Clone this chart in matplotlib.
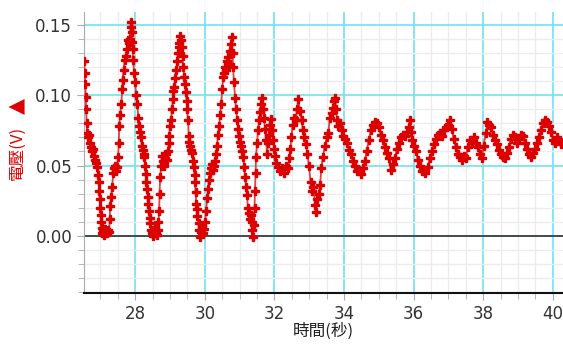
import matplotlib
matplotlib.use("Agg")
import matplotlib.pyplot as plt
from matplotlib.ticker import MultipleLocator

plt.rcParams['font.family'] = ['DejaVu Sans', 'Noto Sans CJK TC']

time_s = [
26.54, 26.55, 26.57, 26.58, 26.59, 26.61, 26.62, 26.65, 26.68, 26.71, 26.74, 26.77, 26.79, 26.82, 26.85,
26.88, 26.91, 26.94, 26.95, 26.97, 26.98, 27.00, 27.01, 27.02, 27.04, 27.05, 27.08, 27.11, 27.14, 27.17,
27.20, 27.23, 27.25, 27.27, 27.28, 27.31, 27.34, 27.37, 27.40, 27.43, 27.45, 27.48, 27.51, 27.53, 27.54,
27.57, 27.60, 27.63, 27.64, 27.67, 27.70, 27.73, 27.76, 27.78, 27.81, 27.84, 27.87, 27.89, 27.90, 27.91,
27.93, 27.94, 27.97, 28.00, 28.03, 28.06, 28.09, 28.10, 28.13, 28.16, 28.19, 28.22, 28.24, 28.26, 28.29,
28.30, 28.32, 28.34, 28.36, 28.37, 28.39, 28.42, 28.43, 28.46, 28.49, 28.52, 28.55, 28.57, 28.60, 28.63,
28.66, 28.67, 28.69, 28.70, 28.72, 28.75, 28.77, 28.80, 28.83, 28.86, 28.89, 28.92, 28.95, 28.96, 28.98,
29.00, 29.03, 29.06, 29.08, 29.10, 29.12, 29.15, 29.18, 29.21, 29.22, 29.25, 29.26, 29.29, 29.32, 29.35,
29.36, 29.38, 29.41, 29.43, 29.45, 29.48, 29.49, 29.52, 29.54, 29.56, 29.58, 29.61, 29.64, 29.66, 29.68,
29.71, 29.72, 29.74, 29.75, 29.78, 29.79, 29.82, 29.84, 29.87, 29.89, 29.92, 29.95, 29.98, 30.01, 30.04,
30.07, 30.09, 30.12, 30.15, 30.18, 30.21, 30.24, 30.27, 30.30, 30.32, 30.35, 30.38, 30.41, 30.44, 30.47,
30.50, 30.53, 30.55, 30.58, 30.61, 30.64, 30.67, 30.69, 30.71, 30.74, 30.77, 30.80, 30.81, 30.84, 30.87,
30.90, 30.93, 30.96, 30.98, 31.01, 31.04, 31.07, 31.10, 31.13, 31.16, 31.19, 31.21, 31.24, 31.27, 31.30,
31.33, 31.36, 31.37, 31.39, 31.41, 31.43, 31.44, 31.46, 31.47, 31.50, 31.53, 31.56, 31.59, 31.62, 31.64,
31.67, 31.70, 31.73, 31.76, 31.79, 31.82, 31.85, 31.87, 31.90, 31.93, 31.96, 31.99, 32.02, 32.05, 32.10,
32.16, 32.22, 32.28, 32.33, 32.39, 32.43, 32.46, 32.49, 32.52, 32.56, 32.61, 32.65, 32.69, 32.73, 32.78,
32.82, 32.86, 32.90, 32.95, 32.99, 33.04, 33.08, 33.12, 33.17, 33.19, 33.22, 33.27, 33.31, 33.35, 33.39,
33.45, 33.51, 33.55, 33.59, 33.64, 33.68, 33.71, 33.74, 33.77, 33.80, 33.84, 33.88, 33.93, 33.97, 34.03,
34.08, 34.14, 34.19, 34.25, 34.31, 34.36, 34.42, 34.48, 34.54, 34.59, 34.65, 34.71, 34.77, 34.82, 34.88,
34.94, 35.00, 35.05, 35.11, 35.17, 35.23, 35.28, 35.34, 35.40, 35.46, 35.52, 35.57, 35.63, 35.69, 35.75,
35.80, 35.86, 35.89, 35.92, 35.95, 36.00, 36.06, 36.12, 36.17, 36.23, 36.29, 36.34, 36.40, 36.46, 36.52,
36.58, 36.63, 36.69, 36.75, 36.81, 36.86, 36.92, 36.98, 37.04, 37.09, 37.15, 37.21, 37.27, 37.32, 37.38,
37.44, 37.50, 37.55, 37.61, 37.67, 37.73, 37.78, 37.84, 37.90, 37.96, 38.01, 38.07, 38.12, 38.16, 38.22,
38.27, 38.33, 38.39, 38.45, 38.50, 38.56, 38.62, 38.68, 38.73, 38.79, 38.85, 38.91, 38.97, 39.02, 39.08,
39.14, 39.20, 39.25, 39.31, 39.37, 39.43, 39.48, 39.54, 39.60, 39.65, 39.71, 39.77, 39.83, 39.89, 39.94,
40.00, 40.06, 40.11, 40.17, 40.23, 40.29,
]

voltage_v = [
0.124, 0.116, 0.108, 0.099, 0.090, 0.080, 0.073, 0.070, 0.072, 0.066, 0.063, 0.060, 0.062, 0.057, 0.054,
0.052, 0.049, 0.043, 0.038, 0.032, 0.026, 0.020, 0.015, 0.010, 0.006, 0.002, 0.004, 0.001, 0.005, 0.003,
0.002, 0.004, 0.003, 0.012, 0.021, 0.028, 0.035, 0.045, 0.048, 0.050, 0.046, 0.049, 0.056, 0.066, 0.078,
0.086, 0.094, 0.104, 0.111, 0.118, 0.125, 0.128, 0.133, 0.139, 0.137, 0.140, 0.148, 0.152, 0.145, 0.138,
0.133, 0.125, 0.116, 0.109, 0.100, 0.094, 0.084, 0.078, 0.074, 0.070, 0.064, 0.061, 0.058, 0.056, 0.050,
0.044, 0.038, 0.033, 0.028, 0.023, 0.018, 0.013, 0.009, 0.004, 0.002, 0.000, 0.004, 0.006, 0.002, 0.001,
0.004, 0.010, 0.018, 0.030, 0.042, 0.050, 0.057, 0.053, 0.050, 0.055, 0.058, 0.054, 0.060, 0.066, 0.071,
0.078, 0.082, 0.090, 0.097, 0.103, 0.106, 0.112, 0.118, 0.124, 0.130, 0.134, 0.137, 0.142, 0.139, 0.134,
0.128, 0.120, 0.113, 0.108, 0.102, 0.096, 0.090, 0.082, 0.071, 0.067, 0.064, 0.061, 0.059, 0.053, 0.049,
0.043, 0.038, 0.031, 0.023, 0.019, 0.014, 0.009, 0.004, -0.001, 0.003, 0.007, 0.002, 0.005, 0.010, 0.018,
0.027, 0.033, 0.040, 0.045, 0.048, 0.051, 0.047, 0.050, 0.053, 0.058, 0.064, 0.072, 0.078, 0.086, 0.094,
0.104, 0.113, 0.116, 0.120, 0.118, 0.124, 0.127, 0.122, 0.131, 0.136, 0.141, 0.130, 0.120, 0.109, 0.098,
0.090, 0.082, 0.076, 0.071, 0.067, 0.064, 0.060, 0.056, 0.049, 0.042, 0.035, 0.029, 0.020, 0.016, 0.012,
0.015, 0.010, 0.004, -0.001, 0.008, 0.020, 0.032, 0.045, 0.056, 0.066, 0.075, 0.082, 0.088, 0.094, 0.098,
0.090, 0.084, 0.076, 0.068, 0.058, 0.066, 0.072, 0.079, 0.083, 0.075, 0.068, 0.062, 0.057, 0.052, 0.049,
0.046, 0.048, 0.045, 0.050, 0.048, 0.055, 0.062, 0.070, 0.079, 0.084, 0.082, 0.090, 0.097, 0.089, 0.082,
0.075, 0.070, 0.065, 0.058, 0.050, 0.038, 0.032, 0.035, 0.022, 0.017, 0.026, 0.030, 0.036, 0.048, 0.056,
0.064, 0.070, 0.073, 0.084, 0.087, 0.091, 0.096, 0.098, 0.090, 0.082, 0.078, 0.080, 0.075, 0.071, 0.069,
0.066, 0.061, 0.058, 0.053, 0.050, 0.046, 0.047, 0.044, 0.048, 0.053, 0.060, 0.068, 0.075, 0.079, 0.081,
0.080, 0.077, 0.072, 0.068, 0.063, 0.059, 0.055, 0.047, 0.051, 0.055, 0.062, 0.066, 0.070, 0.072, 0.071,
0.074, 0.077, 0.082, 0.074, 0.068, 0.064, 0.060, 0.054, 0.050, 0.046, 0.047, 0.045, 0.049, 0.055, 0.060,
0.065, 0.069, 0.072, 0.073, 0.071, 0.075, 0.077, 0.079, 0.082, 0.076, 0.069, 0.063, 0.058, 0.056, 0.054,
0.057, 0.055, 0.063, 0.068, 0.066, 0.070, 0.066, 0.063, 0.058, 0.055, 0.064, 0.073, 0.081, 0.079, 0.077,
0.072, 0.068, 0.065, 0.061, 0.058, 0.056, 0.055, 0.059, 0.063, 0.069, 0.072, 0.070, 0.066, 0.069, 0.072,
0.071, 0.066, 0.062, 0.058, 0.056, 0.059, 0.062, 0.066, 0.070, 0.075, 0.080, 0.082, 0.081, 0.078, 0.074,
0.068, 0.066, 0.070, 0.068, 0.065, 0.067,
]

x_ticks = [28, 30, 32, 34, 36, 38, 40]
y_ticks = [0.00, 0.05, 0.10, 0.15]
x_label = "時間(秒)"
y_label = "電壓(V)"
y_marker = "▲"

W, H = 563, 345
fig = plt.figure(figsize=(W / 100, H / 100), dpi=100)
ax = fig.add_axes([84 / W, 1 - 293 / H, (563 - 84) / W, (293 - 12) / H])

ax.set_xlim(26.53, 40.29)
ax.set_ylim(-0.0405, 0.159)

ax.xaxis.set_minor_locator(MultipleLocator(0.5))
ax.yaxis.set_minor_locator(MultipleLocator(0.01))
ax.set_xticks(x_ticks)
ax.set_yticks(y_ticks)
ax.set_yticklabels([f"{v:.2f}" for v in y_ticks])

ax.grid(which='minor', color='#ececec', linewidth=1.0)
ax.grid(which='major', color='#6fe3ee', linewidth=1.2)
ax.set_axisbelow(True)

ax.axhline(0, color='#333333', linewidth=1.2, zorder=2)

ax.plot(time_s, voltage_v, color='#e04040', linewidth=1.3, zorder=3)
ax.plot(time_s, voltage_v, linestyle='none', marker='P', markersize=5.5,
        color='#dd0000', markeredgecolor='#dd0000', markeredgewidth=1.0, zorder=4)

for s in ['top', 'right']:
    ax.spines[s].set_visible(False)
ax.spines['left'].set_color('#aaaaaa')
ax.spines['bottom'].set_color('#111111')
ax.spines['bottom'].set_linewidth(1.5)

ax.tick_params(axis='both', which='both', colors='#aaaaaa', labelcolor='#333333')
ax.tick_params(axis='both', which='major', length=5, labelsize=12)
ax.tick_params(axis='both', which='minor', length=4)

ax.set_xlabel(x_label, fontsize=12, color='#222222', labelpad=0,
              family=['Noto Sans CJK TC', 'DejaVu Sans'])

fig.text(17 / W, 1 - 153 / H, y_label, rotation=90, fontsize=12, color='#dd0000',
         ha='center', va='center', family=['Noto Sans CJK TC', 'DejaVu Sans'])
fig.text(17 / W, 1 - 106 / H, y_marker, rotation=90, fontsize=15, color='#dd0000',
         ha='center', va='center', family=['DejaVu Sans'])

fig.savefig("out.png", dpi=100)
